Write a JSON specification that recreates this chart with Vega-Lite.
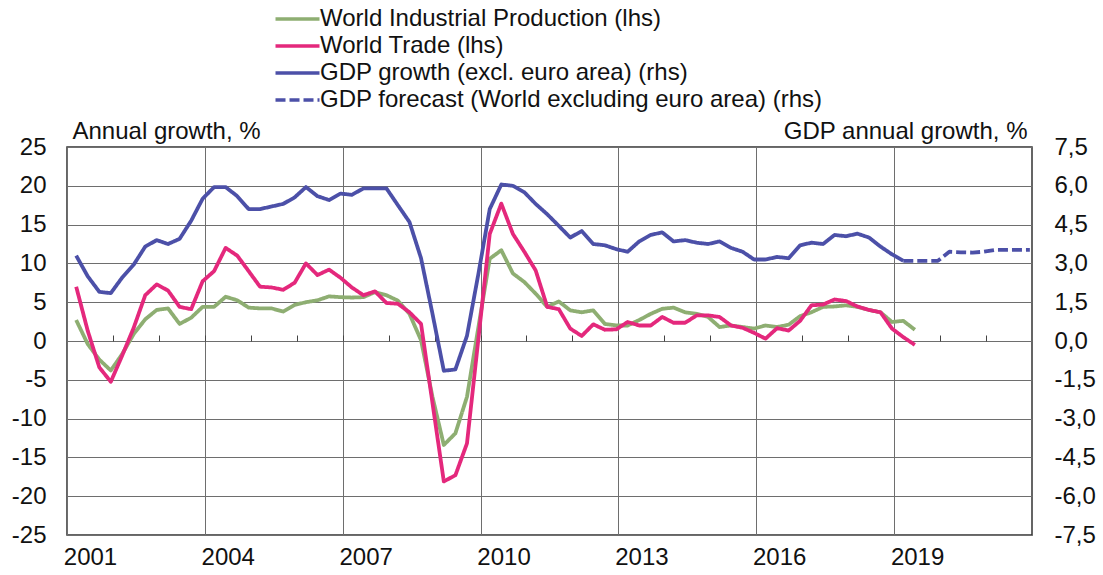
{
  "$schema": "https://vega.github.io/schema/vega-lite/v6.json",
  "width": 965,
  "height": 388,
  "autosize": {"type": "none"},
  "padding": {"left": 67, "top": 147, "right": 71, "bottom": 40},
  "background": "white",
  "config": {
    "font": "Liberation Sans",
    "view": {"stroke": "#333333", "strokeWidth": 1.5},
    "axis": {"labelFontSize": 24, "labelColor": "#111111", "titleFontSize": 24, "titleFontWeight": "normal", "titleColor": "#111111", "gridColor": "#6e6e6e", "gridWidth": 1}
  },
  "data": {"values": [
    {"d":"2001-03-15","ip":2.7,"trade":7.0,"gdp":3.3},
    {"d":"2001-06-15","ip":-0.4,"trade":1.3,"gdp":2.5},
    {"d":"2001-09-15","ip":-2.4,"trade":-3.4,"gdp":1.9},
    {"d":"2001-12-15","ip":-3.8,"trade":-5.25,"gdp":1.85},
    {"d":"2002-03-15","ip":-1.7,"trade":-1.9,"gdp":2.45},
    {"d":"2002-06-15","ip":0.9,"trade":1.7,"gdp":2.95},
    {"d":"2002-09-15","ip":2.8,"trade":5.9,"gdp":3.65},
    {"d":"2002-12-15","ip":4.0,"trade":7.3,"gdp":3.9},
    {"d":"2003-03-15","ip":4.2,"trade":6.5,"gdp":3.75},
    {"d":"2003-06-15","ip":2.2,"trade":4.4,"gdp":3.95},
    {"d":"2003-09-15","ip":3.0,"trade":4.1,"gdp":4.65},
    {"d":"2003-12-15","ip":4.4,"trade":7.7,"gdp":5.5},
    {"d":"2004-03-15","ip":4.4,"trade":9.0,"gdp":5.95},
    {"d":"2004-06-15","ip":5.7,"trade":12.0,"gdp":5.95},
    {"d":"2004-09-15","ip":5.25,"trade":11.0,"gdp":5.6},
    {"d":"2004-12-15","ip":4.3,"trade":9.0,"gdp":5.1},
    {"d":"2005-03-15","ip":4.2,"trade":7.0,"gdp":5.1},
    {"d":"2005-06-15","ip":4.2,"trade":6.9,"gdp":5.2},
    {"d":"2005-09-15","ip":3.8,"trade":6.6,"gdp":5.3},
    {"d":"2005-12-15","ip":4.65,"trade":7.5,"gdp":5.55},
    {"d":"2006-03-15","ip":5.0,"trade":10.0,"gdp":5.95},
    {"d":"2006-06-15","ip":5.25,"trade":8.5,"gdp":5.6},
    {"d":"2006-09-15","ip":5.75,"trade":9.2,"gdp":5.45},
    {"d":"2006-12-15","ip":5.65,"trade":8.15,"gdp":5.7},
    {"d":"2007-03-15","ip":5.6,"trade":6.9,"gdp":5.65},
    {"d":"2007-06-15","ip":5.65,"trade":5.9,"gdp":5.9},
    {"d":"2007-09-15","ip":6.3,"trade":6.4,"gdp":5.9},
    {"d":"2007-12-15","ip":5.9,"trade":4.9,"gdp":5.9},
    {"d":"2008-03-15","ip":5.2,"trade":4.8,"gdp":5.25},
    {"d":"2008-06-15","ip":3.5,"trade":3.7,"gdp":4.6},
    {"d":"2008-09-15","ip":0.1,"trade":2.2,"gdp":3.2},
    {"d":"2008-12-15","ip":-7.2,"trade":-8.0,"gdp":1.05},
    {"d":"2009-03-15","ip":-13.4,"trade":-18.1,"gdp":-1.15},
    {"d":"2009-06-15","ip":-11.9,"trade":-17.3,"gdp":-1.1},
    {"d":"2009-09-15","ip":-7.2,"trade":-13.2,"gdp":0.2},
    {"d":"2009-12-15","ip":1.8,"trade":0.3,"gdp":2.6},
    {"d":"2010-03-15","ip":10.6,"trade":13.8,"gdp":5.1},
    {"d":"2010-06-15","ip":11.7,"trade":17.7,"gdp":6.05},
    {"d":"2010-09-15","ip":8.7,"trade":13.8,"gdp":6.0},
    {"d":"2010-12-15","ip":7.6,"trade":11.5,"gdp":5.75},
    {"d":"2011-03-15","ip":6.1,"trade":9.1,"gdp":5.3},
    {"d":"2011-06-15","ip":4.4,"trade":4.4,"gdp":4.9},
    {"d":"2011-09-15","ip":5.1,"trade":4.1,"gdp":4.45},
    {"d":"2011-12-15","ip":3.95,"trade":1.6,"gdp":4.0},
    {"d":"2012-03-15","ip":3.7,"trade":0.65,"gdp":4.25},
    {"d":"2012-06-15","ip":3.95,"trade":2.15,"gdp":3.75},
    {"d":"2012-09-15","ip":2.2,"trade":1.45,"gdp":3.7},
    {"d":"2012-12-15","ip":2.0,"trade":1.5,"gdp":3.55},
    {"d":"2013-03-15","ip":2.0,"trade":2.45,"gdp":3.45},
    {"d":"2013-06-15","ip":2.7,"trade":2.0,"gdp":3.85},
    {"d":"2013-09-15","ip":3.5,"trade":2.0,"gdp":4.1},
    {"d":"2013-12-15","ip":4.15,"trade":3.1,"gdp":4.2},
    {"d":"2014-03-15","ip":4.3,"trade":2.35,"gdp":3.85},
    {"d":"2014-06-15","ip":3.7,"trade":2.35,"gdp":3.9},
    {"d":"2014-09-15","ip":3.5,"trade":3.3,"gdp":3.8},
    {"d":"2014-12-15","ip":3.1,"trade":3.3,"gdp":3.75},
    {"d":"2015-03-15","ip":1.8,"trade":3.1,"gdp":3.85},
    {"d":"2015-06-15","ip":2.0,"trade":2.0,"gdp":3.6},
    {"d":"2015-09-15","ip":1.8,"trade":1.7,"gdp":3.45},
    {"d":"2015-12-15","ip":1.6,"trade":1.05,"gdp":3.15},
    {"d":"2016-03-15","ip":2.0,"trade":0.3,"gdp":3.15},
    {"d":"2016-06-15","ip":1.8,"trade":1.65,"gdp":3.25},
    {"d":"2016-09-15","ip":2.1,"trade":1.35,"gdp":3.2},
    {"d":"2016-12-15","ip":3.2,"trade":2.6,"gdp":3.7},
    {"d":"2017-03-15","ip":3.7,"trade":4.6,"gdp":3.8},
    {"d":"2017-06-15","ip":4.4,"trade":4.7,"gdp":3.75},
    {"d":"2017-09-15","ip":4.45,"trade":5.35,"gdp":4.1},
    {"d":"2017-12-15","ip":4.6,"trade":5.15,"gdp":4.05},
    {"d":"2018-03-15","ip":4.4,"trade":4.45,"gdp":4.15},
    {"d":"2018-06-15","ip":4.0,"trade":4.0,"gdp":4.0},
    {"d":"2018-09-15","ip":3.7,"trade":3.7,"gdp":3.65},
    {"d":"2018-12-15","ip":2.45,"trade":1.6,"gdp":3.35},
    {"d":"2019-03-15","ip":2.6,"trade":0.5,"gdp":3.1,"fc":3.1},
    {"d":"2019-06-15","ip":1.45,"trade":-0.5,"fc":3.1},
    {"d":"2019-09-15","fc":3.1},
    {"d":"2019-12-15","fc":3.1},
    {"d":"2020-03-15","fc":3.45},
    {"d":"2020-06-15","fc":3.43},
    {"d":"2020-09-15","fc":3.42},
    {"d":"2020-12-15","fc":3.45},
    {"d":"2021-03-15","fc":3.52},
    {"d":"2021-06-15","fc":3.52},
    {"d":"2021-09-15","fc":3.52},
    {"d":"2021-12-15","fc":3.52}
  ]},
  "layer": [
    {
      "transform": [
        {"fold": ["ip", "trade"], "as": ["s", "v"]},
        {"filter": "isValid(datum.v)"}
      ],
      "mark": {"type": "line", "strokeWidth": 3.8, "strokeJoin": "round"},
      "encoding": {
        "x": {
          "field": "d", "type": "temporal",
          "scale": {"type": "utc", "domain": [{"year": 2001, "month": 1, "date": 1, "utc": true}, {"year": 2022, "month": 1, "date": 1, "utc": true}]},
          "axis": {
            "orient": "bottom", "title": null, "grid": true, "ticks": false, "tickSize": 0, "domain": false,
            "values": [{"year": 2001, "utc": true}, {"year": 2004, "utc": true}, {"year": 2007, "utc": true}, {"year": 2010, "utc": true}, {"year": 2013, "utc": true}, {"year": 2016, "utc": true}, {"year": 2019, "utc": true}],
            "labelExpr": "utcFormat(datum.value, '%Y')",
            "labelOffset": 23, "labelPadding": 10, "labelFlush": false, "labelOverlap": false
          }
        },
        "y": {
          "field": "v", "type": "quantitative",
          "scale": {"domain": [-25, 25], "nice": false, "zero": false},
          "axis": {
            "orient": "left", "grid": true, "ticks": false, "tickSize": 0, "domain": false,
            "values": [-25, -20, -15, -10, -5, 0, 5, 10, 15, 20, 25],
            "labelExpr": "(datum.value < 0 ? '-' : '') + format(abs(datum.value), 'd')",
            "labelPadding": 21,
            "title": "Annual growth, %", "titleAngle": 0, "titleAlign": "left", "titleBaseline": "alphabetic", "titleX": 5, "titleY": -9
          }
        },
        "color": {
          "field": "s", "type": "nominal",
          "scale": {"domain": ["ip", "trade", "gdp", "fc"], "range": ["#8eae72", "#e4287c", "#4c50a8", "#4c50a8"]},
          "legend": {
            "orient": "none", "legendX": 202, "legendY": -140, "title": null, "direction": "vertical",
            "symbolType": "M-1,0H7", "symbolSize": 121, "symbolStrokeWidth": 3.5,
            "labelFontSize": 24, "labelColor": "#111111", "labelOffset": 27, "rowPadding": 3, "padding": 0, "labelLimit": 0,
            "labelExpr": "datum.label == 'ip' ? 'World Industrial Production (lhs)' : datum.label == 'trade' ? 'World Trade (lhs)' : datum.label == 'gdp' ? 'GDP growth (excl. euro area) (rhs)' : 'GDP forecast (World excluding euro area) (rhs)'"
          }
        },
        "strokeDash": {
          "field": "s", "type": "nominal",
          "scale": {"domain": ["ip", "trade", "gdp", "fc"], "range": [[1, 0], [1, 0], [1, 0], [10, 4]]},
          "legend": {"title": null}
        }
      }
    },
    {
      "transform": [
        {"fold": ["gdp", "fc"], "as": ["s", "v"]},
        {"filter": "isValid(datum.v)"}
      ],
      "mark": {"type": "line", "strokeWidth": 3.8, "strokeJoin": "round"},
      "encoding": {
        "x": {
          "field": "d", "type": "temporal",
          "axis": {
            "orient": "top", "title": null, "grid": false, "labels": false, "domain": false,
            "ticks": true, "tickSize": 6, "tickColor": "#444444", "tickWidth": 1, "offset": -194,
            "values": [{"year": 2002, "utc": true}, {"year": 2003, "utc": true}, {"year": 2004, "utc": true}, {"year": 2005, "utc": true}, {"year": 2006, "utc": true}, {"year": 2007, "utc": true}, {"year": 2008, "utc": true}, {"year": 2009, "utc": true}, {"year": 2010, "utc": true}, {"year": 2011, "utc": true}, {"year": 2012, "utc": true}, {"year": 2013, "utc": true}, {"year": 2014, "utc": true}, {"year": 2015, "utc": true}, {"year": 2016, "utc": true}, {"year": 2017, "utc": true}, {"year": 2018, "utc": true}, {"year": 2019, "utc": true}, {"year": 2020, "utc": true}, {"year": 2021, "utc": true}]
          }
        },
        "y": {
          "field": "v", "type": "quantitative",
          "scale": {"domain": [-7.5, 7.5], "nice": false, "zero": false},
          "axis": {
            "orient": "right", "grid": false, "ticks": false, "tickSize": 0, "domain": false,
            "values": [-7.5, -6, -4.5, -3, -1.5, 0, 1.5, 3, 4.5, 6, 7.5],
            "labelExpr": "(datum.value < 0 ? '-' : '') + replace(format(abs(datum.value), '.1f'), '.', ',')",
            "labelPadding": 22,
            "title": "GDP annual growth, %", "titleAngle": 0, "titleAlign": "right", "titleBaseline": "alphabetic", "titleX": -5, "titleY": -9
          }
        },
        "color": {"field": "s", "type": "nominal", "legend": {"title": null}},
        "strokeDash": {"field": "s", "type": "nominal", "legend": {"title": null}}
      }
    }
  ],
  "resolve": {"scale": {"y": "independent"}, "axis": {"x": "independent"}}
}
